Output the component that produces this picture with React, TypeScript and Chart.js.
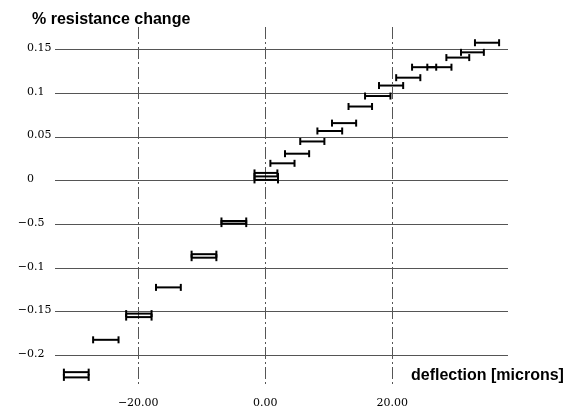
import React, { useEffect, useRef } from "react";
import { Chart, registerables } from "chart.js";

Chart.register(...registerables);

// Each interval: deflection range [xLow, xHigh] (microns) at a given % resistance change
const yValues = [
  0.158, 0.147, 0.141, 0.13, 0.13, 0.118, 0.109, 0.097, 0.085, 0.066, 0.057, 0.045, 0.031, 0.02,
  0.009, 0.005, 0.001, -0.046, -0.049, -0.084, -0.088, -0.122, -0.152, -0.156, -0.182, -0.219, -0.225,
];
const xLow = [
  33.0, 30.8, 28.5, 23.1, 25.5, 20.6, 17.9, 15.7, 13.1, 10.5, 8.2, 5.5, 3.1, 0.8,
  -1.7, -1.7, -1.7, -6.9, -6.9, -11.6, -11.6, -17.2, -21.9, -21.9, -27.1, -31.7, -31.7,
];
const xHigh = [
  36.8, 34.4, 32.1, 26.9, 29.3, 24.4, 21.7, 19.7, 16.8, 14.3, 12.1, 9.3, 6.9, 4.6,
  1.9, 2.0, 2.0, -3.0, -3.0, -7.7, -7.7, -13.3, -17.9, -17.9, -23.1, -27.8, -27.8,
];

const yTickValues = [0.15, 0.1, 0.05, 0, -0.05, -0.1, -0.15, -0.2];
const yTickLabels = ["0.15", "0.1", "0.05", "0", "-0.5", "-0.1", "-0.15", "-0.2"];
const xTickValues = [-20, 0, 20];
const xTickLabels = ["-20.00", "0.00", "20.00"];

const yTitle = "% resistance change";
const xTitle = "deflection [microns]";

const labelPlugin = {
  id: "customLabels",
  afterDraw(chart: any) {
    const ctx = chart.ctx;
    const xs = chart.scales.x;
    const ys = chart.scales.y;
    ctx.save();
    ctx.fillStyle = "#000";
    ctx.font = "11px 'DejaVu Serif'";
    ctx.textBaseline = "middle";
    yTickValues.forEach((v, i) => {
      const py = ys.getPixelForValue(v) - 1.5;
      const lab = yTickLabels[i];
      const neg = lab.startsWith("-");
      const body = neg ? lab.slice(1) : lab;
      ctx.textAlign = "left";
      ctx.fillText(body, 27, py);
      if (neg) {
        ctx.textAlign = "right";
        ctx.fillText("\u2212", 27, py);
      }
    });
    ctx.textAlign = "center";
    xTickValues.forEach((v, i) => {
      const px = xs.getPixelForValue(v);
      ctx.fillText(xTickLabels[i].replace("-", "\u2212"), px, 403);
    });
    ctx.font = "bold 16px 'Liberation Sans'";
    ctx.textBaseline = "alphabetic";
    ctx.textAlign = "left";
    ctx.fillText(yTitle, 32, 24);
    ctx.fillText(xTitle, 411, 380);
    ctx.restore();
  },
};

export default function App() {
  const ref = useRef<HTMLCanvasElement | null>(null);
  useEffect(() => {
    document.body.style.margin = "0";
    if (!ref.current) return;
    const datasets = yValues.map((y, i) => ({
      data: [
        { x: xLow[i], y },
        { x: xHigh[i], y },
      ],
      showLine: true,
      borderColor: "#000",
      borderWidth: 2,
      pointStyle: "line",
      rotation: 90,
      pointRadius: 3.5,
      pointBorderWidth: 2,
      pointBorderColor: "#000",
      pointBackgroundColor: "#000",
      clip: false,
    }));
    const chart = new Chart(ref.current, {
      type: "scatter",
      data: { datasets: datasets as any },
      options: {
        animation: false,
        responsive: false,
        events: [],
        layout: { padding: { left: 55, right: 58, top: 27, bottom: 23 } },
        plugins: { legend: { display: false }, tooltip: { enabled: false } },
        scales: {
          x: {
            type: "linear",
            min: -33.1,
            max: 38.2,
            afterBuildTicks: (s: any) => {
              s.ticks = xTickValues.map((v) => ({ value: v }));
            },
            afterFit: (s: any) => {
              s.height = 0;
            },
            ticks: { display: false },
            grid: { color: "#555", lineWidth: 1, drawTicks: false },
            border: { display: false, dash: [12, 3, 2, 3] },
          },
          y: {
            type: "linear",
            min: -0.236,
            max: 0.176,
            afterBuildTicks: (s: any) => {
              s.ticks = yTickValues.map((v) => ({ value: v }));
            },
            afterFit: (s: any) => {
              s.width = 0;
            },
            ticks: { display: false },
            grid: { color: "#555", lineWidth: 1, drawTicks: false },
            border: { display: false },
          },
        },
      },
      plugins: [labelPlugin],
    });
    return () => chart.destroy();
  }, []);
  return (
    <div style={{ width: 566, height: 410, background: "#fff" }}>
      <canvas ref={ref} width={566} height={410} style={{ display: "block" }} />
    </div>
  );
}
